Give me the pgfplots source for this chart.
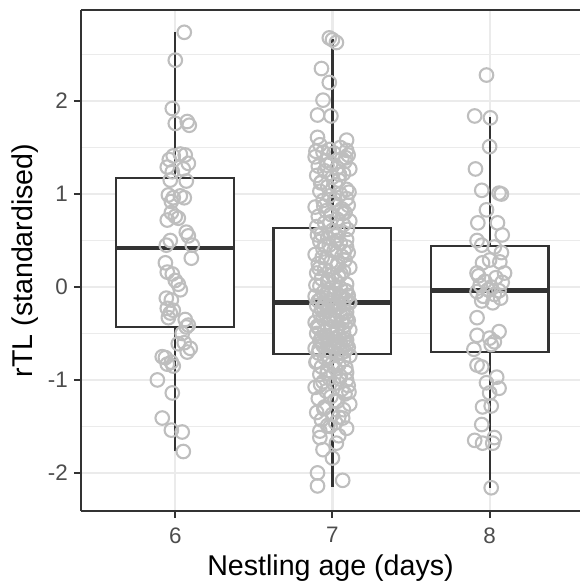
\documentclass[border=0pt]{standalone}
\usepackage{fontspec}
\setmainfont{Liberation Sans}
\usepackage{pgfplots}
\pgfplotsset{compat=1.18}
\definecolor{gridgray}{HTML}{EBEBEB}
\definecolor{boxdark}{HTML}{333333}
\definecolor{ticktext}{HTML}{4D4D4D}
\definecolor{ptgray}{HTML}{BEBEBE}

% jittered points, age 6
\pgfplotstableread{
x y
6.057 2.74
6.000 2.44
5.981 1.92
6.000 1.76
6.076 1.78
6.089 1.74
5.962 1.37
5.987 1.41
6.032 1.43
6.063 1.42
6.083 1.33
5.949 1.29
5.981 1.24
6.051 1.27
5.968 1.15
6.070 1.14
5.956 0.99
5.987 0.96
5.975 0.92
6.032 0.98
6.057 0.96
5.975 0.80
6.000 0.76
5.949 0.72
6.019 0.74
6.070 0.59
6.083 0.55
5.968 0.50
5.943 0.45
6.108 0.45
6.102 0.31
5.937 0.26
5.949 0.16
5.981 0.14
6.000 0.07
6.019 0.03
6.032 -0.03
5.943 -0.12
5.975 -0.14
5.949 -0.23
5.987 -0.25
5.968 -0.28
5.956 -0.33
6.063 -0.35
6.070 -0.43
6.083 -0.41
6.044 -0.50
6.019 -0.61
6.057 -0.60
6.095 -0.66
6.076 -0.70
5.917 -0.75
5.937 -0.76
5.975 -0.81
5.949 -0.83
5.987 -0.85
5.886 -1.00
5.981 -1.14
5.917 -1.41
5.975 -1.54
6.044 -1.56
6.051 -1.77
}\agesix

% jittered points, age 7
\pgfplotstableread{
x y
6.98 2.68
7.00 2.66
7.025 2.63
6.93 2.35
6.98 2.20
6.94 2.01
6.905 1.85
6.99 1.84
6.905 1.61
7.09 1.58
6.92 1.53
7.05 1.50
6.98 1.48
7.09 1.47
6.94 1.45
7.01 1.44
7.10 1.42
6.89 1.40
7.06 1.38
6.96 1.36
7.08 1.35
6.99 1.33
6.91 1.30
7.03 1.28
7.11 1.27
6.95 1.25
7.07 1.22
6.90 1.20
7.00 1.18
7.04 1.15
6.93 1.13
7.02 1.10
6.97 1.08
7.09 1.05
6.92 1.03
7.05 1.00
6.98 0.98
7.09 0.95
6.94 0.93
7.01 0.90
7.10 0.88
6.89 0.86
7.06 0.84
6.96 0.82
7.08 0.80
6.99 0.78
6.91 0.76
7.03 0.73
7.11 0.71
6.95 0.69
7.07 0.67
6.90 0.65
7.00 0.61
7.04 0.59
6.93 0.57
7.02 0.55
6.97 0.53
7.09 0.51
6.92 0.49
7.05 0.47
6.98 0.45
7.09 0.43
6.94 0.41
7.01 0.39
7.10 0.37
6.89 0.35
7.06 0.33
6.96 0.31
7.08 0.29
6.99 0.27
6.91 0.25
7.03 0.23
7.11 0.21
6.95 0.19
7.07 0.17
6.90 0.15
7.00 0.13
7.04 0.11
6.93 0.09
7.02 0.07
6.97 0.05
7.09 0.03
6.92 0.01
7.05 -0.01
6.98 -0.03
7.09 -0.05
6.94 -0.06
7.01 -0.08
7.10 -0.09
6.89 -0.10
7.06 -0.11
6.96 -0.12
7.08 -0.13
6.99 -0.14
6.91 -0.15
7.03 -0.16
7.11 -0.17
6.95 -0.18
7.07 -0.19
6.90 -0.20
7.00 -0.21
7.04 -0.22
6.93 -0.24
7.02 -0.25
6.97 -0.26
7.09 -0.27
6.92 -0.29
7.05 -0.30
6.98 -0.31
7.09 -0.32
6.94 -0.34
7.01 -0.35
7.10 -0.36
6.89 -0.38
7.06 -0.39
6.96 -0.40
7.08 -0.41
6.99 -0.43
6.91 -0.44
7.03 -0.45
7.11 -0.46
6.95 -0.48
7.07 -0.49
6.90 -0.50
7.00 -0.51
7.04 -0.53
6.93 -0.54
7.02 -0.55
6.97 -0.56
7.09 -0.57
6.92 -0.58
7.05 -0.60
6.98 -0.61
7.09 -0.62
6.94 -0.63
7.01 -0.64
7.10 -0.65
6.89 -0.66
7.06 -0.67
6.96 -0.68
7.08 -0.69
6.99 -0.70
6.91 -0.71
7.03 -0.72
7.11 -0.74
6.95 -0.76
7.07 -0.78
6.90 -0.80
7.00 -0.82
7.04 -0.84
6.93 -0.86
7.02 -0.88
6.97 -0.90
7.09 -0.92
6.92 -0.94
7.05 -0.96
6.98 -0.98
7.09 -1.00
6.94 -1.02
7.01 -1.04
7.10 -1.06
6.89 -1.08
7.06 -1.10
6.96 -1.12
7.08 -1.15
6.99 -1.18
6.91 -1.20
7.03 -1.23
7.11 -1.26
6.95 -1.29
7.07 -1.32
6.90 -1.35
7.00 -1.37
7.04 -1.40
6.93 -1.43
7.02 -1.46
6.97 -1.49
7.09 -1.52
6.92 -1.55
6.92 -1.62
7.04 -1.60
7.025 -1.68
6.94 -1.75
7.00 -1.84
6.905 -2.00
7.065 -2.08
6.905 -2.14
6.895 1.46
7.085 1.39
6.965 1.31
7.045 1.21
6.925 1.12
7.105 1.02
7.015 0.94
6.945 0.87
7.065 0.79
6.985 0.70
7.095 0.62
6.905 0.56
7.025 0.50
6.955 0.44
7.075 0.38
6.935 0.32
7.035 0.26
6.915 0.20
7.055 0.14
6.975 0.08
6.895 0.02
7.085 -0.04
6.965 -0.07
7.045 -0.10
6.925 -0.13
7.105 -0.16
7.015 -0.19
6.945 -0.23
7.065 -0.28
6.985 -0.33
7.095 -0.37
6.905 -0.42
7.025 -0.47
6.955 -0.52
7.075 -0.56
6.935 -0.59
7.035 -0.63
6.915 -0.67
7.055 -0.71
6.975 -0.75
6.895 -0.81
7.085 -0.87
6.965 -0.93
7.045 -0.99
6.925 -1.05
7.105 -1.13
7.015 -1.22
6.945 -1.31
7.065 -1.41
6.985 -1.50
}\ageseven

% jittered points, age 8
\pgfplotstableread{
x y
7.98 2.28
7.905 1.84
8.005 1.82
8.00 1.51
7.91 1.27
7.95 1.04
8.06 1.01
8.075 1.00
7.98 0.83
7.925 0.69
8.05 0.69
8.08 0.56
7.92 0.50
7.95 0.45
8.03 0.43
8.075 0.37
8.00 0.29
7.955 0.26
8.065 0.27
7.92 0.15
8.095 0.15
7.93 0.12
8.04 0.10
7.97 0.06
8.08 0.05
7.94 0.02
8.01 0.00
7.99 -0.03
8.06 -0.04
7.92 -0.05
8.03 -0.08
7.96 -0.10
8.07 -0.12
7.95 -0.15
8.02 -0.17
7.92 -0.33
7.92 -0.52
8.00 -0.55
8.06 -0.48
8.03 -0.59
7.90 -0.67
8.01 -0.62
7.95 -0.86
7.92 -0.84
8.045 -0.97
7.98 -1.03
8.06 -1.09
8.00 -1.14
7.955 -1.29
8.01 -1.28
7.95 -1.48
7.905 -1.65
7.955 -1.68
8.02 -1.68
8.03 -1.62
8.01 -2.16
}\ageeight

\begin{document}
\begin{tikzpicture}
\begin{axis}[
    scale only axis,
    width=249.5pt, height=250.5pt,
    xmin=5.4, xmax=8.575,
    ymin=-2.41, ymax=2.98,
    axis x line*=box, axis y line*=left,
    xtick pos=left, ytick pos=left,
    xtick={6,7,8}, xticklabels={6,7,8},
    ytick={-2,-1,0,1,2}, yticklabels={-2,-1,0,1,2},
    minor ytick={-1.5,-0.5,0.5,1.5,2.5},
    xmajorgrids, ymajorgrids, yminorgrids,
    major grid style={gridgray, line width=1.1pt},
    minor grid style={gridgray, line width=0.55pt},
    tick align=outside,
    major tick length=3.5pt, minor tick length=0pt,
    major tick style={boxdark, line width=1pt},
    axis line style={boxdark, line width=1pt},
    tick label style={font=\fontsize{11.2}{13}\selectfont, text=ticktext, inner sep=0pt},
    xticklabel style={anchor=north, yshift=-4.5pt},
    yticklabel style={anchor=east, xshift=-2.85pt},
    xlabel={Nestling age (days)},
    ylabel={rTL (standardised)},
    label style={font=\fontsize{14.3}{16}\selectfont},
    xlabel style={at={(axis description cs:0.5,0)}, anchor=base, yshift=-32pt},
    ylabel style={at={(axis description cs:-0.0962,0.5)}, anchor=base},
    box/.style={draw=boxdark, fill=white, line width=1.1pt, line join=miter, forget plot},
    whisk/.style={draw=boxdark, line width=1.1pt, forget plot},
    med/.style={draw=boxdark, line width=2.4pt, forget plot},
    pts/.style={only marks, mark=o, mark size=3.4pt, mark options={draw=ptgray, line width=1.05pt}},
]
% age 6: box from quartiles, median, whiskers
\addplot[box] coordinates {(5.625,-0.43) (6.375,-0.43) (6.375,1.17) (5.625,1.17)} -- cycle;
\addplot[whisk] coordinates {(6,1.17) (6,2.74)};
\addplot[whisk] coordinates {(6,-0.43) (6,-1.76)};
\addplot[med] coordinates {(5.625,0.42) (6.375,0.42)};
% age 7
\addplot[box] coordinates {(6.625,-0.72) (7.375,-0.72) (7.375,0.635) (6.625,0.635)} -- cycle;
\addplot[whisk] coordinates {(7,0.635) (7,2.67)};
\addplot[whisk] coordinates {(7,-0.72) (7,-2.15)};
\addplot[med] coordinates {(6.625,-0.17) (7.375,-0.17)};
% age 8
\addplot[box] coordinates {(7.625,-0.70) (8.375,-0.70) (8.375,0.44) (7.625,0.44)} -- cycle;
\addplot[whisk] coordinates {(8,0.44) (8,1.83)};
\addplot[whisk] coordinates {(8,-0.70) (8,-2.16)};
\addplot[med] coordinates {(7.625,-0.04) (8.375,-0.04)};
% points
\addplot[pts] table {\agesix};
\addplot[pts] table {\ageseven};
\addplot[pts] table {\ageeight};
\coordinate (pll) at (rel axis cs:0,0);
\coordinate (pur) at (rel axis cs:1,1);
\end{axis}
\pgfresetboundingbox
\path[use as bounding box] ([xshift=-40.5pt,yshift=-37.5pt]pll) rectangle ([yshift=5pt]pur);
\end{tikzpicture}
\end{document}
